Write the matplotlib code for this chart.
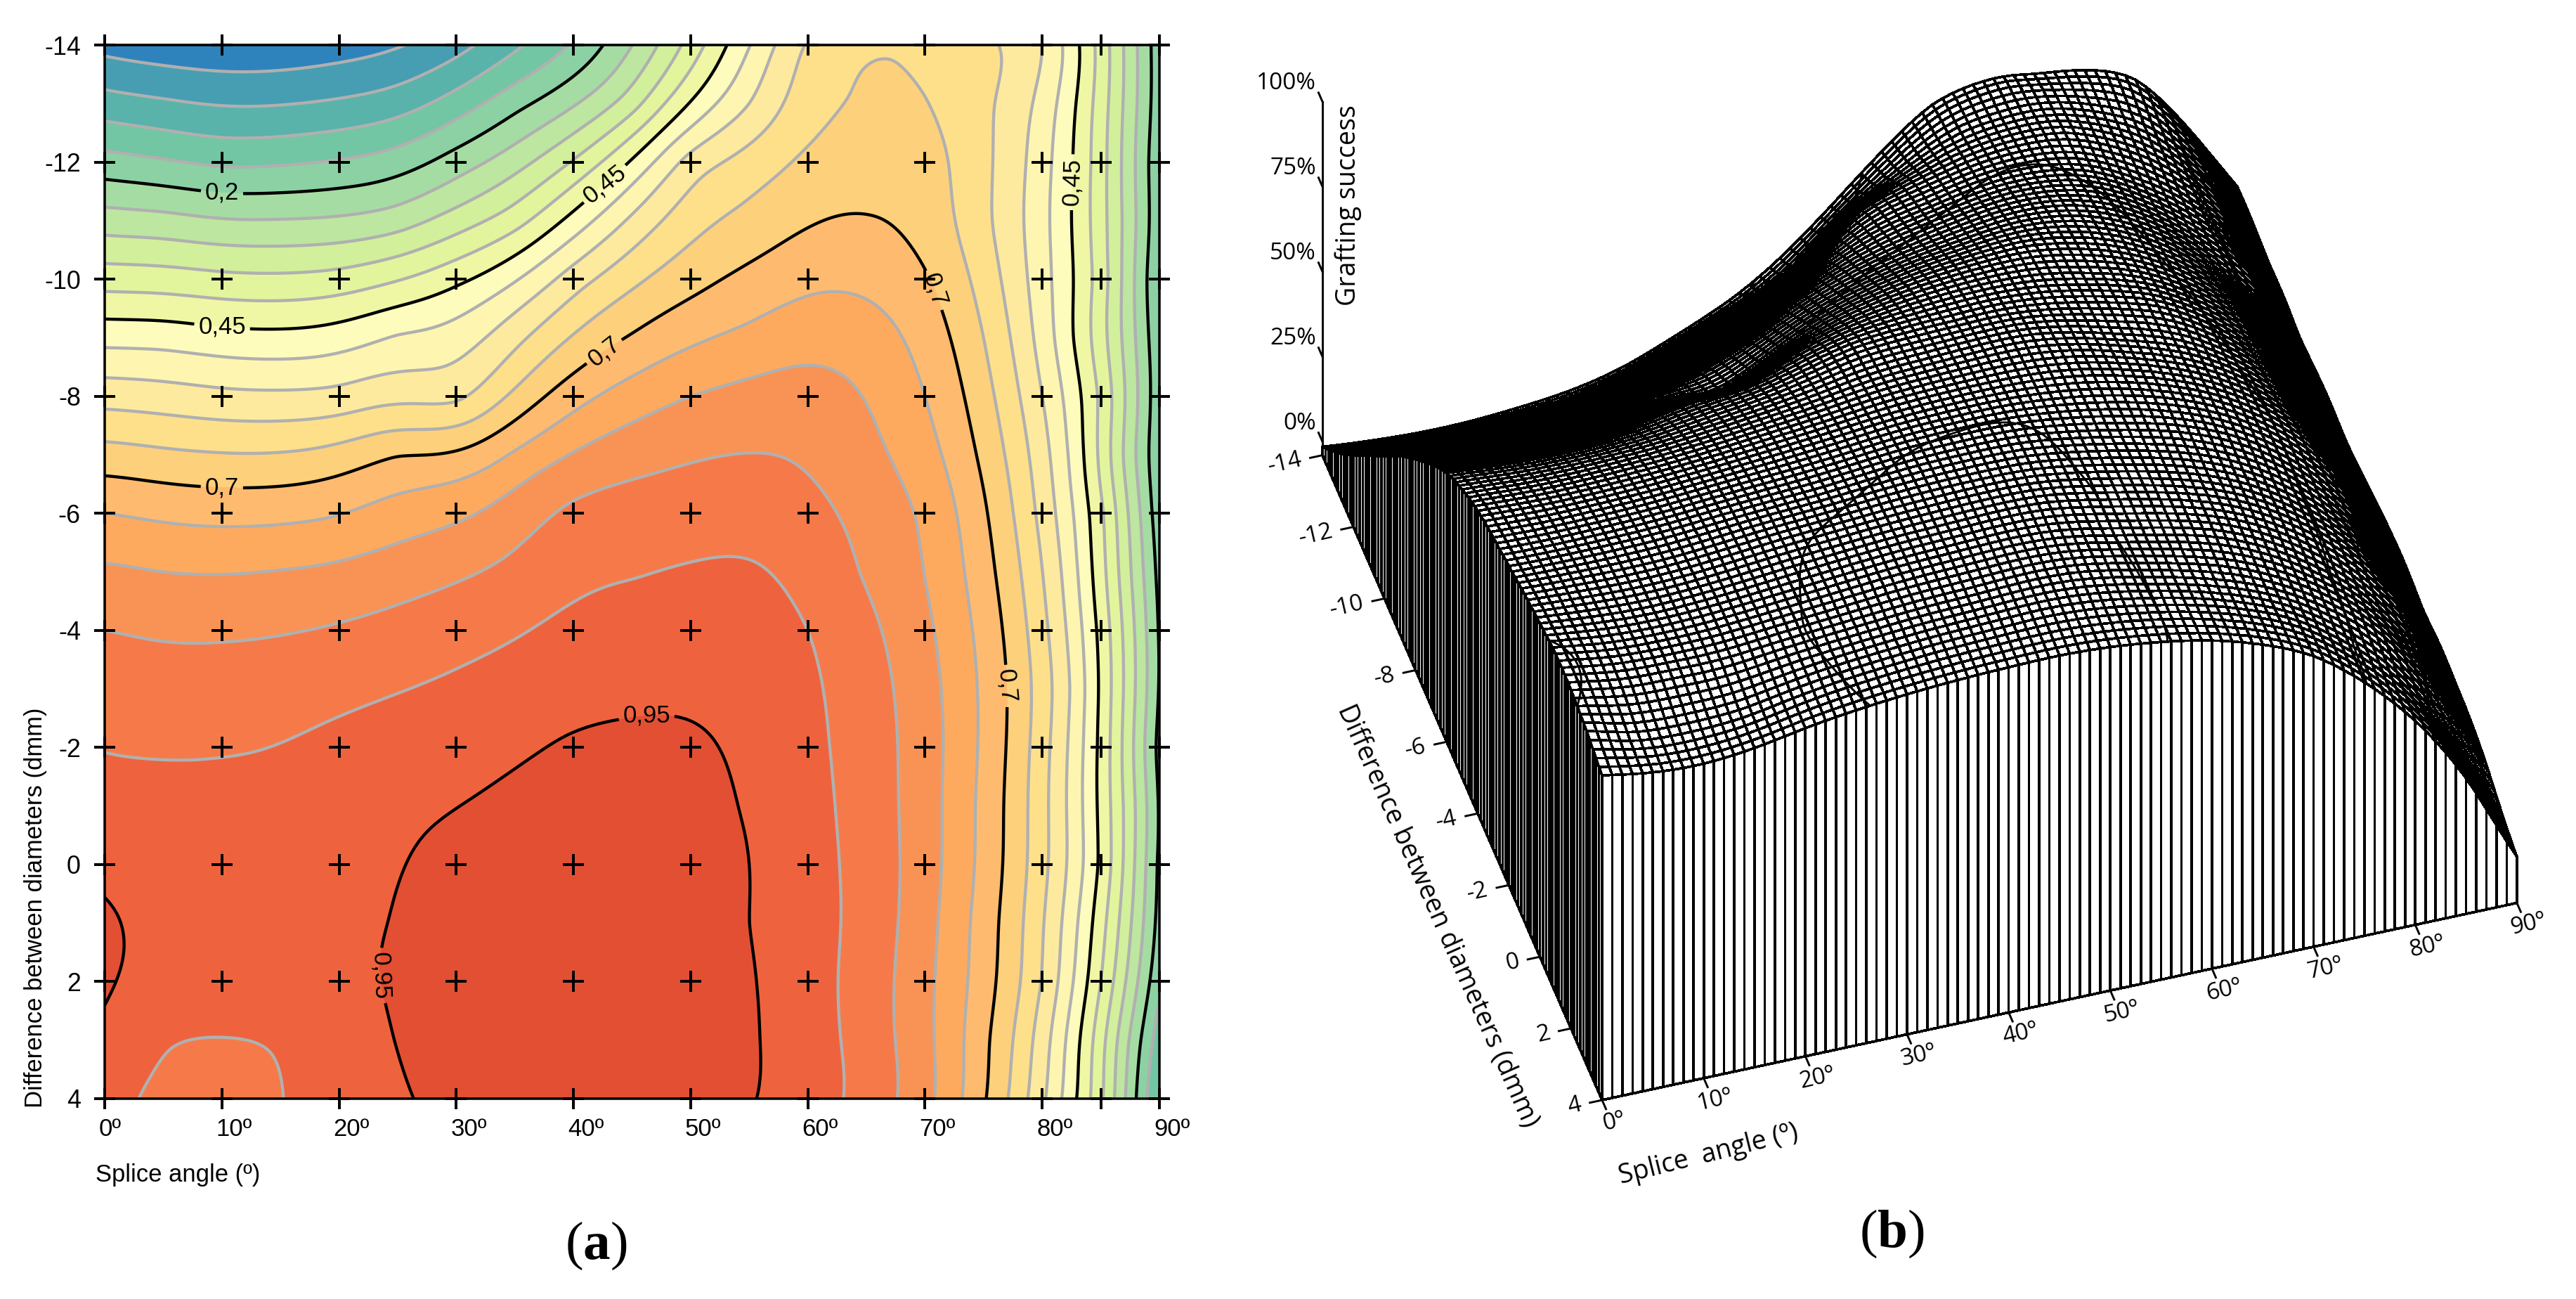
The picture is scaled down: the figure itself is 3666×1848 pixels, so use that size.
import numpy as np
import matplotlib
matplotlib.use("Agg")
import matplotlib.pyplot as plt
from matplotlib.transforms import ScaledTranslation
from mpl_toolkits.mplot3d import proj3d

angle = [0, 10, 20, 30, 40, 50, 60, 70, 80, 85, 90]
diff = [-14, -12, -10, -8, -6, -4, -2, 0, 2, 4]
z_m14 = [-.015, -.035, -.022, .033, .157, .37, .605, .63, .55, .38, .17]
z_m12 = [.17, .142, .155, .224, .355, .569, .66, .668, .52, .37, .16]
z_m10 = [.378, .364, .37, .438, .575, .682, .738, .705, .52, .375, .15]
z_m8 = [.58, .563, .567, .59, .73, .80, .82, .75, .55, .39, .165]
z_m6 = [.75, .734, .748, .79, .86, .877, .864, .79, .584, .41, .17]
z_m4 = [.85, .843, .855, .881, .912, .923, .9, .81, .615, .435, .195]
z_m2 = [.898, .897, .912, .93, .955, .957, .912, .822, .62, .437, .185]
z_0 = [.94, .92, .935, .96, .975, .975, .919, .822, .615, .44, .19]
z_p2 = [.955, .925, .94, .965, .98, .98, .92, .813, .597, .40, .16]
z_p4 = [.915, .885, .925, .96, .975, .97, .925, .815, .56, .36, .095]

# readings between the measured nodes
mid_angle = [5, 15, 25, 35, 45, 55, 65, 75, 82.5, 87.5]
mid_diff = [-13, -11, -9, -7, -5, -3, -1, 1, 3]
c_m13 = [.058, .048, .078, .184, .33, .55, .655, .61, .462, .275]
c_m11 = [.267, .253, .278, .38, .56, .665, .703, .612, .45, .272]
c_m9 = [.48, .465, .505, .585, .705, .763, .772, .65, .455, .27]
c_m7 = [.66, .654, .698, .757, .83, .851, .814, .688, .49, .272]
c_m5 = [.80, .802, .825, .863, .897, .905, .845, .72, .52, .304]
c_m3 = [.872, .878, .898, .921, .94, .93, .872, .74, .545, .322]
c_m1 = [.915, .915, .94, .96, .97, .945, .878, .736, .535, .322]
c_p1 = [.935, .93, .952, .975, .985, .95, .881, .727, .52, .305]
c_p3 = [.905, .905, .951, .975, .985, .955, .878, .712, .48, .245]
# ridge tip and left-edge readings
tip_x = [67, 0, 0]
tip_y = [-13.7, 1, 3]
tip_z = [.652, .956, .94]

gray_levels = [0, .05, .1, .15, .25, .3, .35, .4, .5, .55, .6, .65, .75, .8, .85, .9]
black_levels = [.2, .45, .7, .95]
band_colors = ['#2f83bc', '#479eb2', '#59b3aa', '#72c6a4', '#8bd1a4', '#a5dca3', '#bde6a0',
               '#d2ef9b', '#e3f59c', '#eff7a5', '#fdfcbc', '#fef6b0', '#feea9e', '#fee08b',
               '#fdd07c', '#febb6f', '#fdaa5f', '#f99355', '#f67a49', '#ee633e', '#e34f33']
x_labels = ['0º', '10º', '20º', '30º', '40º', '50º', '60º', '70º', '80º', '', '90º']
y_labels = ['-14', '-12', '-10', '-8', '-6', '-4', '-2', '0', '2', '4']
z_ticks = [0, .25, .5, .75, 1]
z_labels = ['0%', '25%', '50%', '75%', '100%']
spot_x = [10, 10, 42.8, 10, 42.5, 71, 76.7, 46.2, 23.4, 82.4]
spot_y = [-11.45, -9.15, -11.6, -6.45, -8.8, -9.83, -3.05, -2.63, 1.9, -11.66]
spot_rot = [0, 0, 38, 0, 38, -72, -85, 0, -88, 88]

W, H = 3666, 1848
plt.rcParams['font.family'] = ['Liberation Sans', 'DejaVu Sans']
plt.rcParams['mathtext.fontset'] = 'custom'
plt.rcParams['mathtext.bf'] = 'Liberation Serif:bold'
plt.rcParams['mathtext.rm'] = 'Liberation Serif'
fig = plt.figure(figsize=(W / 300, H / 300), dpi=300, facecolor='white')


def ftext(x, y, s, **kw):
    return fig.text(x / W, 1 - y / H, s, **kw)


# smoothing thin-plate surface through the readings
Z_nodes = np.array([z_m14, z_m12, z_m10, z_m8, z_m6, z_m4, z_m2, z_0, z_p2, z_p4])
Z_mid = np.array([c_m13, c_m11, c_m9, c_m7, c_m5, c_m3, c_m1, c_p1, c_p3])
XN, YN = np.meshgrid(angle, diff)
XC, YC = np.meshgrid(mid_angle, mid_diff)
px = np.concatenate([XN.ravel(), XC.ravel(), tip_x]).astype(float) / 10
py = np.concatenate([YN.ravel(), YC.ravel(), tip_y]).astype(float) / 2
pz = np.concatenate([Z_nodes.ravel(), Z_mid.ravel(), tip_z])


def kernel(ax_, ay_, bx_, by_):
    r2 = (ax_[:, None] - bx_[None]) ** 2 + (ay_[:, None] - by_[None]) ** 2
    return 0.5 * r2 * np.log(np.maximum(r2, 1e-12))


n = len(pz)
smooth = 0.012
K = kernel(px, py, px, py) + smooth * np.eye(n)
P = np.column_stack([np.ones(n), px, py])
A = np.block([[K, P], [P.T, np.zeros((3, 3))]])
sol = np.linalg.solve(A, np.concatenate([pz, np.zeros(3)]))


def evaluate(nx, ny):
    xs = np.linspace(0, 90, nx)
    ys = np.linspace(-14, 4, ny)
    gx, gy = np.meshgrid(xs, ys)
    qx, qy = gx.ravel() / 10, gy.ravel() / 2
    gz = kernel(qx, qy, px, py) @ sol[:n] + sol[n] + sol[n + 1] * qx + sol[n + 2] * qy
    return gx, gy, gz.reshape(gx.shape)


# ---------------- panel (a) ----------------
L, R, T, B = 149, 1650, 64.3, 1563
ax = fig.add_axes([L / W, 1 - B / H, (R - L) / W, (B - T) / H])
fx, fy, fz = evaluate(361, 361)
all_levels = [-1] + sorted(gray_levels + black_levels) + [2]
ax.contourf(fx, fy, fz, levels=all_levels, colors=band_colors)
ax.contour(fx, fy, fz, levels=gray_levels, colors='#b0b0b0', linewidths=1.05)
cs = ax.contour(fx, fy, fz, levels=black_levels, colors='k', linewidths=1.05)
labs = ax.clabel(cs, black_levels, inline=True, fontsize=8.3, inline_spacing=6,
                 fmt=lambda v: f'{v:g}'.replace('.', ','),
                 manual=list(zip(spot_x, spot_y)))
for t, r in zip(labs, spot_rot):
    t.set_rotation(r)
ax.set_xlim(0, 90)
ax.set_ylim(4, -14)
ax.plot(XN.ravel(), YN.ravel(), '+', color='k', ms=7.4, mew=0.95, clip_on=False, zorder=6)
ax.set_xticks(angle)
ax.set_xticklabels(x_labels, fontsize=8.3, ha='left')
ax.set_yticks(diff)
ax.set_yticklabels(y_labels, fontsize=8.6)
ax.tick_params(axis='x', length=0, pad=6.6)
ax.tick_params(axis='y', length=0, pad=8.2)
shift = ScaledTranslation(-8 / 300, 0, fig.dpi_scale_trans)
for lab in ax.get_xticklabels():
    lab.set_transform(lab.get_transform() + shift)
for s in ax.spines.values():
    s.set_linewidth(0.85)
ftext(136, 1672, 'Splice angle (º)', fontsize=8.3, ha='left', va='center')
ftext(51, 1576, 'Difference between diameters (dmm)', fontsize=8.3, rotation=90, ha='center', va='bottom')
ftext(848, 1772, r'($\mathbf{a}$)', fontsize=18.5, family='Liberation Serif', ha='center', va='center')

# ---------------- panel (b) ----------------
floor = -0.04
ax3 = fig.add_axes([0, 0, 1, 1], projection='3d', proj_type='ortho', computed_zorder=False)
ax3.view_init(elev=44.8, azim=-107)
ax3.set_xlim(0, 90, view_margin=0)
ax3.set_ylim(4, -14, view_margin=0)
ax3.set_zlim(floor, 1, view_margin=0)
ax3.set_box_aspect((1, 1, 0.5208))
ax3.set_xticks([])
ax3.set_yticks([])
ax3.set_zticks([])
ax3.set_axis_off()
ax3.patch.set_visible(False)

mx, my, mz = evaluate(91, 91)
lw = 0.65
fwx = np.vstack([mx[-1], mx[-1]])
fwy = np.vstack([my[-1], my[-1]])
fwz = np.vstack([mz[-1], np.full(91, floor)])
lwx = np.vstack([mx[:, 0], mx[:, 0]])
lwy = np.vstack([my[:, 0], my[:, 0]])
lwz = np.vstack([mz[:, 0], np.full(91, floor)])
for a, b, c in [(lwx, lwy, lwz), (fwx, fwy, fwz)]:
    p = ax3.plot_surface(a, b, c, rstride=1, cstride=1, color='white', edgecolor='k',
                         linewidth=lw, shade=False, zorder=1, antialiased=False)
    p.set_clip_on(False)
p = ax3.plot_surface(mx, my, mz, rstride=1, cstride=1, color='white', edgecolor='k',
                     linewidth=lw, shade=False, zorder=2, antialiased=False)
p.set_clip_on(False)
c3 = ax3.contour(fx, fy, fz, levels=black_levels, colors='k', linewidths=0.7, zorder=3)

# axis lines and ticks
kw3 = dict(color='k', lw=0.7, zorder=4, clip_on=False)
ax3.plot([0, 90], [4, 4], [floor, floor], **kw3)
ax3.plot([0, 0], [4, -14], [floor, floor], **kw3)
ax3.plot([0, 0], [-14, -14], [floor, 1], **kw3)
for v, s in zip(angle, x_labels):
    if s:
        ax3.plot([v, v], [4, 4.25], [floor, floor], **kw3)
for v in diff:
    ax3.plot([0, -1.2], [v, v], [floor, floor], **kw3)
for v in z_ticks:
    ax3.plot([0, 0], [-14, -14.25], [v, v], **kw3)


def screen(x, y, z):
    u, v, _ = proj3d.proj_transform(x, y, z, ax3.get_proj())
    return ax3.transData.transform((u, v))


# place the 3D box so its floor corners land where the reference has them
S0 = 2000
ax3.set_position([0, 0, S0 / W, S0 / H])
ax3.apply_aspect()
p0, p1 = screen(0, 4, floor), screen(90, 4, floor)
tgt0 = np.array([2280, H - 1565])
tgt1 = np.array([3582, H - 1285])
S = S0 * np.linalg.norm(tgt1 - tgt0) / np.linalg.norm(p1 - p0)
ax3.set_position([0, 0, S / W, S / H])
ax3.apply_aspect()
d = tgt0 - screen(0, 4, floor)
ax3.set_position([d[0] / W, d[1] / H, S / W, S / H])
ax3.apply_aspect()

# tick labels, placed at the projected position of their data point
tf = dict(family=['Open Sans', 'DejaVu Sans'], fontsize=8.0)


def label3d(x, y, z, s, **kw):
    sx, sy = screen(x, y, z)
    fig.text(sx / W, sy / H, s, **kw, **tf)


for v, s in zip(angle, x_labels):
    if s:
        label3d(v + .2, 4.62, floor, s, ha='center', va='center', rotation=13)
for v, s in zip(diff, y_labels):
    off = {1: -2.7, 2: -3.1, 3: -3.7}[len(s)]
    label3d(off, v, floor, s, ha='center', va='center', rotation=13)
for v, s in zip(z_ticks, z_labels):
    label3d(0, -14.4, v + .012, s, ha='right', va='center')

ttl = dict(family=['Open Sans', 'DejaVu Sans'], fontsize=9, ha='center', va='center', rotation_mode='anchor')
ftext(1919, 292, 'Grafting success', rotation=90, **ttl)
ftext(2045, 1303, 'Difference between diameters (dmm)', rotation=-66, **ttl)
ftext(2432, 1643, 'Splice  angle (º)', rotation=14, **ttl)
ftext(2692, 1755, r'($\mathbf{b}$)', fontsize=18.5, family='Liberation Serif', ha='center', va='center')

fig.savefig('out.png', dpi=300, facecolor='white')
